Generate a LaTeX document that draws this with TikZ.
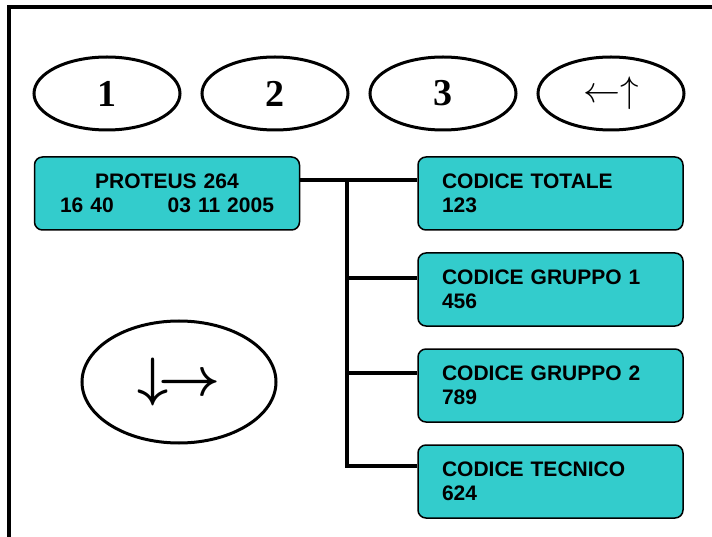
\documentclass[tikz,border=0pt]{standalone}
\usepackage{graphicx}
\usepackage{fontspec}
\setmainfont{Liberation Sans}
\newfontfamily\keyfont{Liberation Serif}
\usetikzlibrary{positioning,shapes.geometric}
\definecolor{lcdcyan}{HTML}{33CCCC}

\begin{document}
\begin{tikzpicture}[x=1pt, y=-1pt, node distance=168pt, on grid,
    key/.style={draw, ellipse, line width=3pt, minimum width=146pt,
      minimum height=73pt, inner sep=0pt,
      font=\keyfont\bfseries\fontsize{38}{40}\selectfont},
    lcd/.style={draw, fill=lcdcyan, rounded corners=8pt, line width=1.5pt,
      minimum width=265pt, minimum height=73pt, text width=217pt,
      inner xsep=24pt, align=left, font=\bfseries\fontsize{21}{24}\selectfont},
    link/.style={line width=4.5pt}]
  \useasboundingbox (0,0) rectangle (712,537);
  \draw[line width=4pt] (9,537) -- (9,7) -- (712,7);%
  \node[key] (k1) at (107,93.5) {1};%
  \node[key] (k2) [right=of k1] {2};%
  \node[key] (k3) [right=of k2] {3};%
  \node[key, font=\normalsize] (k4) [right=of k3]
    {\scalebox{3.7}{$\leftarrow\uparrow$}};%
  \node[key, minimum width=194pt, minimum height=122pt, font=\normalsize]
    (nav) at (179,382) {\scalebox{5.4}{\boldmath$\downarrow\!\rightarrow$}};%
  \node[lcd, align=center] (prot) at (167,193.5)
    {PROTEUS 264\\16 40\hspace{54pt}03 11 2005};%
  \node[lcd] (tot) at (550.5,193.5) {CODICE TOTALE\\123};%
  \node[lcd] (gr1) [below=96pt of tot] {CODICE GRUPPO 1\\456};%
  \node[lcd] (gr2) [below=96pt of gr1] {CODICE GRUPPO 2\\789};%
  \node[lcd] (tec) [below=96pt of gr2] {CODICE TECNICO\\624};%
  \coordinate (bus) at (347,180);
  \draw[link] ([yshift=13.5pt]prot.east) -- ([yshift=13.5pt]tot.west);
  \foreach \n/\d in {gr1/11.5, gr2/12.5, tec/15.5}
    \draw[link] (bus) |- ([yshift=\d pt]\n.west);
\end{tikzpicture}
\end{document}
